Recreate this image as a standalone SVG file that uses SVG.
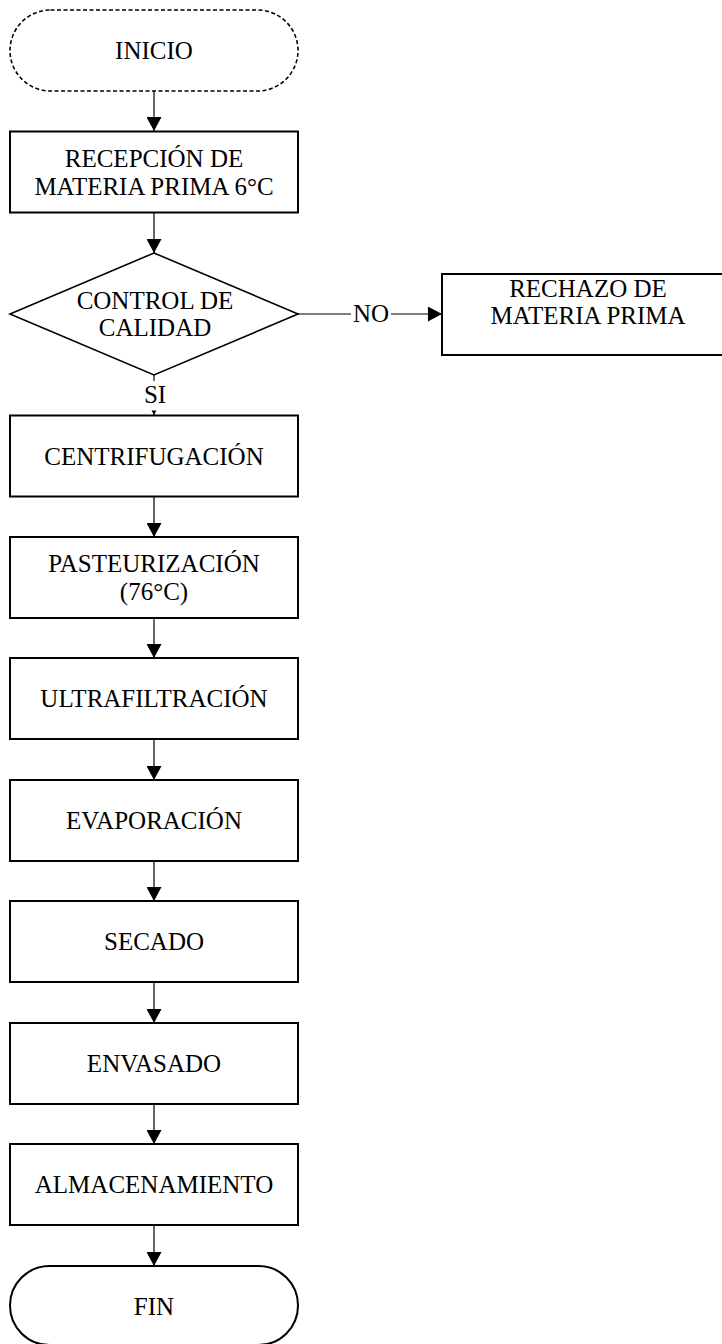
<svg xmlns="http://www.w3.org/2000/svg" width="722" height="1344" viewBox="0 0 722 1344">
<style>
.box{fill:#fff;stroke:#000;stroke-width:2}
.term{fill:#fff;stroke:#000;stroke-width:2}
.dash{fill:#fff;stroke:#000;stroke-width:1.6;stroke-dasharray:4 2.5}
.dec{fill:#fff;stroke:#000;stroke-width:1.6}
.ln{fill:none;stroke:#000;stroke-width:1.2}
.t{font-family:'Liberation Serif','DejaVu Serif',serif;font-size:25px;fill:#000;text-anchor:middle}
</style>
<defs>
<marker id="ah" markerWidth="16" markerHeight="15" refX="15" refY="8" orient="auto" markerUnits="userSpaceOnUse" viewBox="0 0 15 16">
<path d="M0,0 L15,8 L0,16 Z" fill="#000"/>
</marker>
</defs>
<rect width="722" height="1344" fill="#fff"/>
<g id="connectors">
<line class="ln" x1="154" y1="91" x2="154" y2="131" marker-end="url(#ah)"/>
<line class="ln" x1="154" y1="212" x2="154" y2="253" marker-end="url(#ah)"/>
<line class="ln" x1="154" y1="375" x2="154" y2="415" marker-end="url(#ah)"/>
<rect x="138" y="381" width="34" height="29.5" fill="#fff"/>
<text class="t" font-family="Liberation Serif, serif" x="155" y="403">SI</text>
<line class="ln" x1="298" y1="314" x2="351" y2="314"/>
<text class="t" font-family="Liberation Serif, serif" x="371" y="321.5">NO</text>
<line class="ln" x1="391" y1="314" x2="442" y2="314" marker-end="url(#ah)"/>
<line class="ln" x1="154" y1="496" x2="154" y2="537" marker-end="url(#ah)"/>
<line class="ln" x1="154" y1="617" x2="154" y2="658" marker-end="url(#ah)"/>
<line class="ln" x1="154" y1="738" x2="154" y2="780" marker-end="url(#ah)"/>
<line class="ln" x1="154" y1="861" x2="154" y2="901" marker-end="url(#ah)"/>
<line class="ln" x1="154" y1="982" x2="154" y2="1023" marker-end="url(#ah)"/>
<line class="ln" x1="154" y1="1104" x2="154" y2="1144" marker-end="url(#ah)"/>
<line class="ln" x1="154" y1="1225" x2="154" y2="1266" marker-end="url(#ah)"/>
</g>
<g id="inicio">
<rect class="dash" x="10" y="10" width="288" height="81" rx="40.5" ry="40.5"/>
<text class="t" x="154" y="59">INICIO</text>
</g>
<g id="recepcion">
<rect class="box" x="10" y="131.5" width="288" height="81"/>
<text class="t" x="154" y="166.5">RECEPCIÓN DE</text>
<text class="t" x="154" y="195">MATERIA PRIMA 6°C</text>
</g>
<g id="control">
<polygon class="dec" points="154,253 298,314 154,375 10,314"/>
<text class="t" x="155" y="308.5">CONTROL DE</text>
<text class="t" x="155" y="336">CALIDAD</text>
</g>
<g id="rechazo">
<rect class="box" x="442" y="274" width="290" height="81"/>
<text class="t" x="588" y="297">RECHAZO DE</text>
<text class="t" x="588" y="323.5">MATERIA PRIMA</text>
</g>
<g id="centrifugacion">
<rect class="box" x="10" y="415.5" width="288" height="81"/>
<text class="t" x="154" y="464.5">CENTRIFUGACIÓN</text>
</g>
<g id="pasteurizacion">
<rect class="box" x="10" y="537" width="288" height="81"/>
<text class="t" x="154" y="571.5">PASTEURIZACIÓN</text>
<text class="t" x="154" y="600">(76°C)</text>
</g>
<g id="ultrafiltracion">
<rect class="box" x="10" y="658" width="288" height="81"/>
<text class="t" x="154" y="707">ULTRAFILTRACIÓN</text>
</g>
<g id="evaporacion">
<rect class="box" x="10" y="780" width="288" height="81"/>
<text class="t" x="154" y="829">EVAPORACIÓN</text>
</g>
<g id="secado">
<rect class="box" x="10" y="901" width="288" height="81"/>
<text class="t" x="154" y="950">SECADO</text>
</g>
<g id="envasado">
<rect class="box" x="10" y="1023" width="288" height="81"/>
<text class="t" x="154" y="1072">ENVASADO</text>
</g>
<g id="almacenamiento">
<rect class="box" x="10" y="1144" width="288" height="81"/>
<text class="t" x="154" y="1193">ALMACENAMIENTO</text>
</g>
<g id="fin">
<rect class="term" x="10" y="1266" width="288" height="79" rx="39.5" ry="39.5"/>
<text class="t" x="154" y="1315">FIN</text>
</g>
</svg>
